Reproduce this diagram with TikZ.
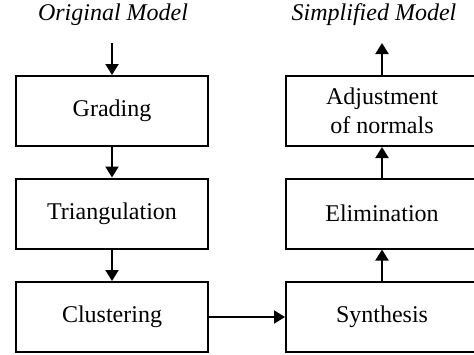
\documentclass[tikz,border=0pt]{standalone}
\usepackage{fontspec}
\setmainfont{Liberation Serif}
\usetikzlibrary{arrows.meta}
\tikzset{
	stage/.style={draw,line width=1pt,minimum width=96pt,minimum height=35pt,align=center,font=\fontsize{12}{14.5}\selectfont},
	flow/.style={line width=1pt,-{Triangle[length=5.5pt,width=6.5pt]}},
	model/.style={font=\fontsize{12}{14.5}\selectfont\itshape}
}
\begin{document}
\begin{tikzpicture}[x=0.5pt,y=-0.5pt]
			\useasboundingbox (0,0) rectangle (474,354);
			% left column
			\node[model] (orig) at (113,15) {Original Model};
			\coordinate (in) at (112,43);
			\node[stage] (grad) at (112,111) {Grading};
			\node[stage] (tri) at (112,213.5) {Triangulation};
			\node[stage] (clus) at (112,317) {Clustering};
			% right column
			\node[model] (simp) at (374,15) {Simplified Model};
			\coordinate (out) at (382,43);
			\node[stage] (adj) at (382,111) {Adjustment\\of normals};
			\node[stage] (elim) at (382,213.5) {Elimination};
			\node[stage] (syn) at (382,317) {Synthesis};
			\draw[flow] (in) -- (grad);
			\draw[flow] (grad) -- (tri);
			\draw[flow] (tri) -- (clus);
			\draw[flow] (clus) -- (syn);
			\draw[flow] (syn) -- (elim);
			\draw[flow] (elim) -- (adj);
			\draw[flow] (adj) -- (out);
		\end{tikzpicture}
\end{document}
